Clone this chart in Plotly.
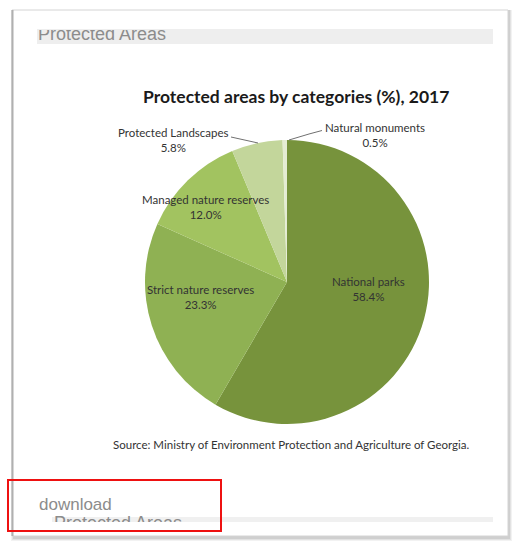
import plotly.graph_objects as go

# ---- data ----
categories = ["National parks", "Strict nature reserves", "Managed nature reserves",
              "Protected Landscapes", "Natural monuments"]
values = [58.4, 23.3, 12.0, 5.8, 0.5]
colors = ["#77933C", "#8FB153", "#A2C360", "#C3D69B", "#E4ECD3"]

title_text = "Protected areas by categories (%), 2017"
source_text = "Source: Ministry of Environment Protection and Agriculture of Georgia."

W, H = 513, 548
def X(x): return x / W
def Y(y): return 1 - y / H

fig = go.Figure()

# pie
fig.add_trace(go.Pie(
    labels=categories, values=values, sort=False, direction="clockwise", rotation=0,
    marker=dict(colors=colors, line=dict(width=0)),
    textinfo="none", hoverinfo="label+percent", showlegend=False,
    domain=dict(x=[X(145), X(429)], y=[Y(424), Y(140)]),
))

# clipped page texts (header + partially visible next header)
page_font = "Liberation Sans, Arial, sans-serif"
fig.add_trace(go.Scatter(
    x=[38, 54], y=[35.5, 524.5], text=["Protected Areas", "Protected Areas"],
    mode="text", textposition="middle right", cliponaxis=True, hoverinfo="skip",
    textfont=dict(family=page_font, size=18, color="#8c8c8c"), showlegend=False,
))

shapes = []
# card shadow
for i, c in enumerate(["#f2f2f2", "#e2e2e2", "#cfcfcf"]):
    o = 3 - i
    shapes.append(dict(type="rect", xref="paper", yref="paper",
                       x0=X(12 - o + 2), x1=X(508 + o + 1), y0=Y(536 + o + 2), y1=Y(10),
                       fillcolor=c, line=dict(width=0), layer="below"))
shapes.append(dict(type="rect", xref="paper", yref="paper",
                   x0=X(12), x1=X(508), y0=Y(536), y1=Y(10),
                   fillcolor="white", line=dict(color="#d4d4d4", width=1), layer="below"))
shapes.append(dict(type="line", xref="paper", yref="paper",
                   x0=X(12.5), x1=X(12.5), y0=Y(536), y1=Y(10),
                   line=dict(color="#b0b0b0", width=2), layer="below"))
# header bands
shapes.append(dict(type="rect", xref="paper", yref="paper",
                   x0=X(37), x1=X(493), y0=Y(44), y1=Y(29),
                   fillcolor="#eeeeee", line=dict(width=0), layer="below"))
shapes.append(dict(type="rect", xref="paper", yref="paper",
                   x0=X(52), x1=X(493), y0=Y(522), y1=Y(517),
                   fillcolor="#f0f0f0", line=dict(width=0), layer="below"))
# red highlight box
shapes.append(dict(type="rect", xref="paper", yref="paper",
                   x0=X(8), x1=X(221), y0=Y(531), y1=Y(480),
                   fillcolor="rgba(0,0,0,0)", line=dict(color="#ee1111", width=2)))
# leader lines
shapes.append(dict(type="path", xref="paper", yref="paper",
                   path=f"M {X(231)},{Y(137)} L {X(258)},{Y(143)}",
                   line=dict(color="#707070", width=1)))
shapes.append(dict(type="path", xref="paper", yref="paper",
                   path=f"M {X(322)},{Y(130.5)} L {X(309)},{Y(134)} L {X(289)},{Y(140)}",
                   line=dict(color="#707070", width=1)))

chart_font = "Lato, Open Sans, sans-serif"
annotations = []
def ann(text, x, y, size, color, xanchor="center", family=chart_font):
    annotations.append(dict(text=text, x=X(x), y=Y(y), xref="paper", yref="paper",
                            xanchor=xanchor, yanchor="middle", showarrow=False, align="center",
                            font=dict(family=family, size=size, color=color)))

ann(f"<b>{title_text}</b>", 296, 97, 17.5, "#1a1a1a")
ann(source_text, 291, 444, 11.5, "#333333")

label_pos = {
    "National parks": (368, 289),
    "Strict nature reserves": (200, 297),
    "Managed nature reserves": (205, 207),
    "Protected Landscapes": (173, 140),
    "Natural monuments": (375, 135),
}
for cat, v in zip(categories, values):
    lx, ly = label_pos[cat]
    ann(f"{cat}<br>{v:.1f}%", lx, ly, 11.5, "#333333")

ann("download", 37, 504, 17, "#8c8c8c", xanchor="left", family=page_font)

fig.update_layout(
    width=W, height=H, margin=dict(l=0, r=0, t=0, b=0),
    paper_bgcolor="white", plot_bgcolor="rgba(0,0,0,0)",
    shapes=shapes, annotations=annotations,
    xaxis=dict(domain=[0, 1], range=[0, W], visible=False, fixedrange=True),
    yaxis=dict(domain=[Y(522), Y(30)], range=[522, 30], visible=False, fixedrange=True),
    showlegend=False,
)

fig.write_html("out.html")
